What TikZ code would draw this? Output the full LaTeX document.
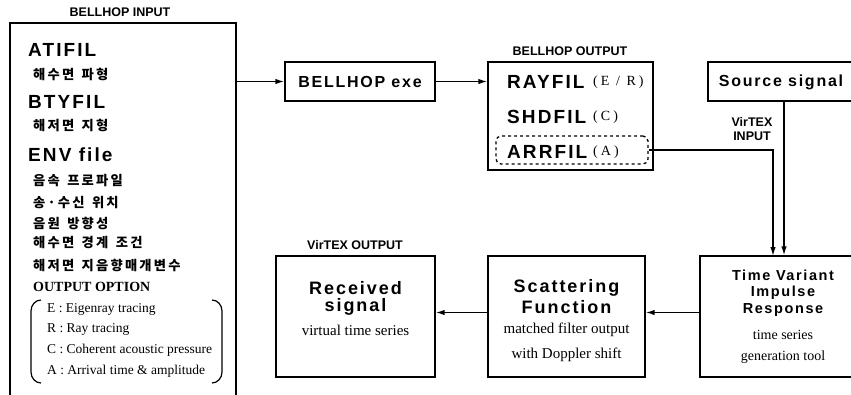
\documentclass[tikz,border=0pt]{standalone}
\usepackage{fontspec}
\setmainfont{Liberation Serif}
\newfontfamily\hdfont[LetterSpace=11]{Liberation Sans}
\newfontfamily\lblfont{Liberation Sans}
\newfontfamily\krfont{Noto Sans CJK KR}
\newfontfamily\spserif[LetterSpace=22]{Liberation Serif}
\usetikzlibrary{arrows.meta}
\newcommand\myfs[1]{\fontsize{#1}{#1}\selectfont}
\makeatletter
\newcommand\krsp[1]{\@tfor\krc:=#1\do{\krc\kern2.2pt}}
\makeatother
\tikzset{
  box/.style={draw, line width=1.4pt, inner sep=0pt},
  conn/.style={line width=1.4pt, -{Latex[length=9pt,width=5.5pt]}},
  big/.style={inner sep=0pt, anchor=west, font=\hdfont\bfseries\myfs{19}},
  mid/.style={inner sep=0pt, font=\hdfont\bfseries\myfs{16}},
  hh/.style={inner sep=0pt, font=\hdfont\bfseries\myfs{18}},
  tv/.style={inner sep=0pt, font=\hdfont\bfseries\myfs{14.5}},
  kr/.style={inner sep=0pt, anchor=west, font=\krfont\bfseries\myfs{13.3}},
  lbl/.style={inner sep=0pt, font=\lblfont\bfseries\myfs{12.5}},
  ser/.style={inner sep=0pt, font=\myfs{15}},
  opt/.style={inner sep=0pt, anchor=west, font=\myfs{13.5}},
  par/.style={inner sep=0pt, anchor=west, font=\spserif\myfs{14}},
}
\begin{document}
\begin{tikzpicture}[x=1pt,y=-1pt]
\useasboundingbox (0,0) rectangle (851,394);
% boxes
\node[box, minimum width=226pt, minimum height=375pt] (inbox) at (123,210.5) {};
\node[box, minimum width=150pt, minimum height=39pt] (exe) at (360,81.5) {};
\node[box, minimum width=165pt, minimum height=108pt] (out) at (570.5,116) {};
\node[draw, dashed, line width=1.3pt, rounded corners=5pt, inner sep=0pt, minimum width=152pt, minimum height=28pt] (arr) at (572,150) {};
\node[box, minimum width=152pt, minimum height=39pt] (src) at (784,81.5) {};
\node[box, minimum width=159pt, minimum height=121pt] (recv) at (355.5,316.5) {};
\node[box, minimum width=157pt, minimum height=121pt] (scat) at (566.5,316.5) {};
\node[box, minimum width=160pt, minimum height=121pt] (tvir) at (780,316.5) {};
% group labels
\node[lbl] (l1) at (120,12) {BELLHOP INPUT};
\node[lbl] (l2) at (570,51) {BELLHOP OUTPUT};
\node[lbl] (l3) at (355,245) {VirTEX OUTPUT};
\node[lbl, align=center] (l4) at (752,129) {VirTEX\\[1pt]INPUT};
% input box content
\node[big] (t1) at (28,50) {ATIFIL};
\node[kr] (k1) at (33,74) {\krsp{해수면~파형}};
\node[big] (t2) at (28,102) {BTYFIL};
\node[kr] (k2) at (33,125) {\krsp{해저면~지형}};
\node[big] (t3) at (28,155) {ENV file};
\node[kr] (k3) at (33,181) {\krsp{음속~프로파일}};
\node[kr] (k4) at (33,203) {\krsp{송·수신~위치}};
\node[kr] (k5) at (33,223) {\krsp{음원~방향성}};
\node[kr] (k6) at (33,243) {\krsp{해수면~경계~조건}};
\node[kr] (k7) at (33,265) {\krsp{해저면~지음향매개변수}};
\node[inner sep=0pt, anchor=west, font=\bfseries\myfs{14}] (oo) at (33,287) {OUTPUT OPTION};
\node[opt] (o1) at (47,309) {E : Eigenray tracing};
\node[opt] (o2) at (47,329) {R : Ray tracing};
\node[opt] (o3) at (47,350) {C : Coherent acoustic pressure};
\node[opt] (o4) at (47,371) {A : Arrival time \& amplitude};
\draw[line width=1.2pt] (41,300) to[out=180,in=90] (31,311) -- (31,372) to[out=-90,in=180] (41,383);
\draw[line width=1.2pt] (212,300) to[out=0,in=90] (222,311) -- (222,372) to[out=-90,in=0] (212,383);
% process boxes text
\node[mid] (te) at (360,82) {BELLHOP exe};
\node[mid] (ts) at (781,82) {Source signal};
\node[big] (r1) at (507,82) {RAYFIL};
\node[par] (p1) at (593,82) {(E / R)};
\node[big] (r2) at (507,117) {SHDFIL};
\node[par] (p2) at (593,117) {(C)};
\node[big] (r3) at (507,152) {ARRFIL};
\node[par] (p3) at (593,152) {(A)};
% received
\node[hh] (rv1) at (355.5,288) {Received};
\node[hh] (rv2) at (355.5,307) {signal};
\node[ser] (rv3) at (355.5,330) {virtual time series};
% scattering
\node[hh] (sc1) at (566.5,288) {Scattering};
\node[hh] (sc2) at (566.5,307) {Function};
\node[ser] (sc3) at (566.5,330) {matched filter output};
\node[ser] (sc4) at (566.5,355) {with Doppler shift};
% tvir
\node[tv] (tv1) at (783,275) {Time Variant};
\node[tv] (tv2) at (783,293) {Impulse};
\node[tv] (tv3) at (783,310) {Response};
\node[ser, font=\myfs{14}] (tv4) at (783,335) {time series};
\node[ser, font=\myfs{14}] (tv5) at (783,357) {generation tool};
% connectors
\draw[conn] (inbox.east |- exe.west) -- (exe.west);
\draw[conn] (exe.east) -- (exe.east -| out.west);
\coordinate (tapA) at (773,256);
\draw[conn] (arr.east) -| (tapA);
\draw[conn] (src.south) -- (src.south |- tvir.north);
\draw[conn] ([yshift=4pt]tvir.west) -- ([yshift=4pt]scat.east);
\draw[conn] ([yshift=4pt]scat.west) -- ([yshift=4pt]recv.east);
\end{tikzpicture}
\end{document}
